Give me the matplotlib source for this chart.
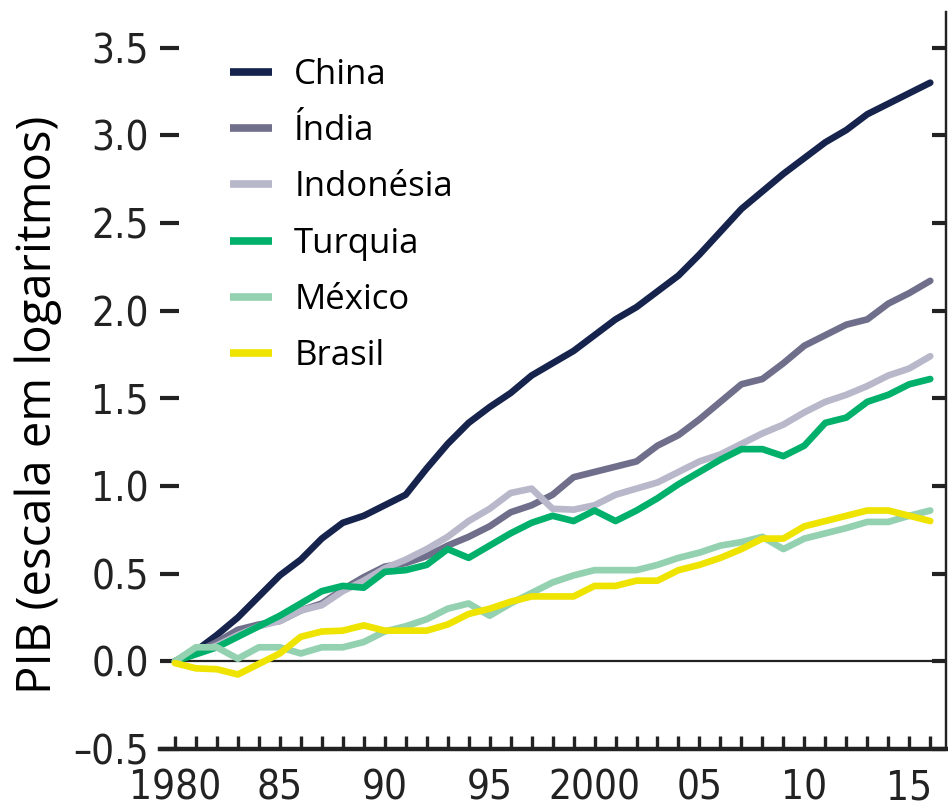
import matplotlib as mpl
import matplotlib.pyplot as plt

mpl.rcParams.update({
    "font.family": ["DejaVu Sans"],
    "font.stretch": "condensed",
    "axes.edgecolor": "#222222",
    "xtick.color": "#222222", "ytick.color": "#222222",
})

YEARS = list(range(1980, 2017))

CHINA = [0.00, 0.06, 0.15, 0.25, 0.37, 0.49, 0.58, 0.70, 0.79, 0.83,
         0.89, 0.95, 1.10, 1.24, 1.36, 1.45, 1.53, 1.63, 1.70, 1.77,
         1.86, 1.95, 2.02, 2.11, 2.20, 2.32, 2.45, 2.58, 2.68, 2.78,
         2.87, 2.96, 3.03, 3.12, 3.18, 3.24, 3.30]
INDIA = [0.00, 0.05, 0.11, 0.18, 0.21, 0.23, 0.29, 0.33, 0.41, 0.48,
         0.54, 0.56, 0.60, 0.66, 0.71, 0.77, 0.85, 0.89, 0.95, 1.05,
         1.08, 1.11, 1.14, 1.23, 1.29, 1.38, 1.48, 1.58, 1.61, 1.70,
         1.80, 1.86, 1.92, 1.95, 2.04, 2.10, 2.17]
INDONESIA = [0.00, 0.05, 0.09, 0.15, 0.20, 0.23, 0.29, 0.32, 0.40, 0.46,
             0.53, 0.58, 0.64, 0.71, 0.80, 0.87, 0.96, 0.985, 0.87, 0.865,
             0.89, 0.95, 0.985, 1.02, 1.08, 1.14, 1.18, 1.24, 1.30, 1.35,
             1.42, 1.48, 1.52, 1.57, 1.63, 1.67, 1.74]
TURQUIA = [0.00, 0.04, 0.08, 0.14, 0.20, 0.26, 0.33, 0.40, 0.43, 0.42,
           0.51, 0.52, 0.55, 0.64, 0.59, 0.66, 0.73, 0.79, 0.83, 0.80,
           0.86, 0.80, 0.86, 0.93, 1.01, 1.08, 1.15, 1.21, 1.21, 1.17,
           1.23, 1.36, 1.39, 1.48, 1.52, 1.58, 1.61]
MEXICO = [0.00, 0.08, 0.08, 0.015, 0.08, 0.08, 0.045, 0.08, 0.08, 0.11,
          0.17, 0.20, 0.24, 0.30, 0.33, 0.26, 0.33, 0.39, 0.45, 0.49,
          0.52, 0.52, 0.52, 0.55, 0.59, 0.62, 0.66, 0.68, 0.71, 0.64,
          0.70, 0.73, 0.76, 0.795, 0.795, 0.83, 0.86]
BRASIL = [-0.01, -0.04, -0.045, -0.075, -0.015, 0.045, 0.14, 0.17, 0.175, 0.205,
          0.175, 0.175, 0.175, 0.21, 0.27, 0.30, 0.34, 0.37, 0.37, 0.37,
          0.43, 0.43, 0.46, 0.46, 0.52, 0.55, 0.59, 0.64, 0.70, 0.70,
          0.77, 0.80, 0.83, 0.86, 0.86, 0.83, 0.80]

SERIES = [
    ("China", CHINA, "#15234d"),
    ("Índia", INDIA, "#6f6f8b"),
    ("Indonésia", INDONESIA, "#b9b8cb"),
    ("Turquia", TURQUIA, "#00b06b"),
    ("México", MEXICO, "#93d1b0"),
    ("Brasil", BRASIL, "#efe300"),
]

YTICKS = [-0.5, 0.0, 0.5, 1.0, 1.5, 2.0, 2.5, 3.0, 3.5]
XLABELED = {1980: "1980", 1985: "85", 1990: "90", 1995: "95",
            2000: "2000", 2005: "05", 2010: "10", 2015: "15"}

fig = plt.figure(figsize=(9.48, 8.08), dpi=100)
W, H = 948, 808
ax = fig.add_axes([160 / W, (H - 749) / H, (946 - 160) / W, (749 - 12) / H])

for name, vals, col in SERIES:
    ax.plot(YEARS, vals, color=col, lw=4.8, label=name,
            solid_capstyle="round", solid_joinstyle="round")

ax.axhline(0, color="#222222", lw=1.6, zorder=1)

ax.set_xlim(1979.29, 2016.75)
ax.set_ylim(-0.5, 3.703)

for s in ("top", "left"):
    ax.spines[s].set_visible(False)
ax.spines["bottom"].set_linewidth(3.2)
ax.spines["right"].set_linewidth(1.6)

ax.set_yticks(YTICKS)
ax.set_yticklabels([f"{v:.1f}".replace("-", "\u2013") for v in YTICKS], fontsize=29)
ax.tick_params(axis="y", direction="in", length=14, width=3.0, pad=8)

ax.set_xticks(YEARS)
ax.set_xticklabels([XLABELED.get(y, "") for y in YEARS], fontsize=29)
ax.tick_params(axis="x", direction="in", length=9.5, width=2.4, pad=14)

right = ax.secondary_yaxis("right")
right.set_yticks(YTICKS)
right.set_yticklabels([])
right.tick_params(direction="in", length=10, width=3.0)
right.spines["right"].set_linewidth(1.6)

ax.set_ylabel("PIB (escala em logaritmos)", family=["Open Sans", "DejaVu Sans"],
              fontstretch="normal", fontsize=34)
ax.yaxis.set_label_coords((62 - 160) / 786, 0.467)

leg = ax.legend(loc="upper left", bbox_to_anchor=((230 - 160) / 786, (749 - 58) / 737),
                frameon=False,
                prop={"family": ["Open Sans", "DejaVu Sans"], "size": 25, "stretch": "normal"},
                handlelength=1.2, handletextpad=0.65, labelspacing=0.64, borderpad=0,
                borderaxespad=0)
for line in leg.get_lines():
    line.set_linewidth(5.5)
    line.set_solid_capstyle("butt")

fig.savefig("out.png", dpi=100)
